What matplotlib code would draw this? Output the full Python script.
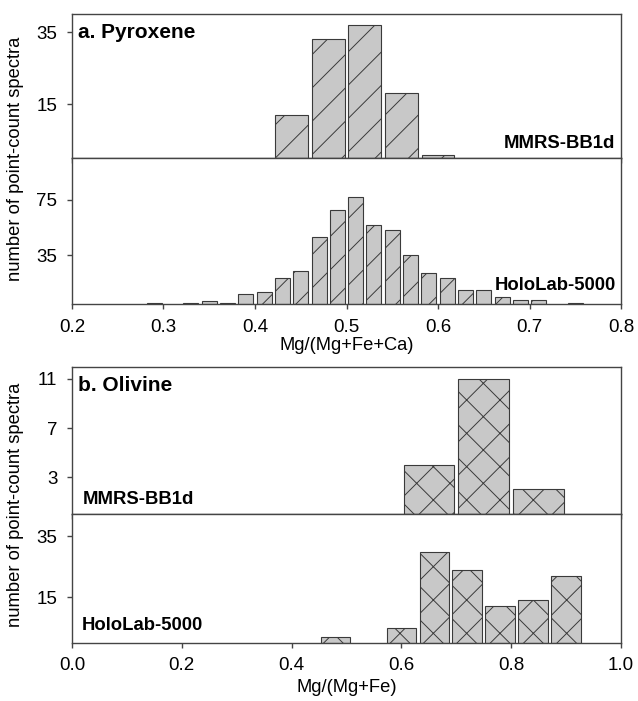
import numpy as np
import matplotlib
matplotlib.use("Agg")
import matplotlib.pyplot as plt

plt.rcParams['font.family'] = ['Liberation Sans', 'DejaVu Sans']
plt.rcParams['hatch.linewidth'] = 0.7

# pyroxene, MMRS-BB1d (bins of 0.04)
pyx_mmrs_x = [0.44, 0.48, 0.52, 0.56, 0.60]
pyx_mmrs_n = [12, 33, 37, 18, 1]

# pyroxene, HoloLab-5000 (bins of 0.02)
pyx_holo_x = [0.29, 0.33, 0.35, 0.37, 0.39, 0.41, 0.43, 0.45, 0.47, 0.49,
              0.51, 0.53, 0.55, 0.57, 0.59, 0.61, 0.63, 0.65, 0.67, 0.69,
              0.71, 0.75]
pyx_holo_n = [1, 1, 2, 1, 7, 9, 19, 24, 48, 68,
              77, 57, 53, 35, 22, 19, 10, 10, 5, 3,
              3, 1]

# olivine, MMRS-BB1d (bins of 0.1)
ol_mmrs_x = [0.65, 0.75, 0.85]
ol_mmrs_n = [4, 11, 2]

# olivine, HoloLab-5000 (bins of 0.06)
ol_holo_x = [0.48, 0.60, 0.66, 0.72, 0.78, 0.84, 0.90]
ol_holo_n = [2, 5, 30, 24, 12, 14, 22]

face = '#c8c8c8'
edge = '#3a3a3a'
spine_c = '#444444'
W, H = 638, 701
L, R = 72, 621


def px_axes(fig, x0, y0, x1, y1):
    return fig.add_axes([x0 / W, 1 - y1 / H, (x1 - x0) / W, (y1 - y0) / H])


def style(ax):
    for s in ax.spines.values():
        s.set_color(spine_c)
        s.set_linewidth(1.0)
    ax.tick_params(direction='out', length=3.6, width=1, color=spine_c,
                   labelsize=13.5, pad=7, right=False, top=False)


fig = plt.figure(figsize=(W / 100, H / 100), dpi=100)

# ---- panel a
a1 = px_axes(fig, L, 14, R, 158.3)
a2 = px_axes(fig, L, 158.3, R, 304)
a1.bar(pyx_mmrs_x, pyx_mmrs_n, width=0.036, color=face, edgecolor=edge,
       linewidth=0.8, hatch='/')
a2.bar(pyx_holo_x, pyx_holo_n, width=0.0165, color=face, edgecolor=edge,
       linewidth=0.8, hatch='/')
for ax in (a1, a2):
    ax.set_xlim(0.2, 0.8)
    ax.set_xticks(np.arange(0.2, 0.81, 0.1))
    style(ax)
a1.set_ylim(0, 40)
a1.set_yticks([15, 35])
a1.tick_params(labelbottom=False)
a2.set_ylim(0, 105)
a2.set_yticks([35, 75])
a2.set_xticklabels(['0.2', '0.3', '0.4', '0.5', '0.6', '0.7', '0.8'])
a2.set_xlabel('Mg/(Mg+Fe+Ca)', fontsize=13.2, labelpad=1)
a1.text(0.011, 0.935, 'a. Pyroxene', transform=a1.transAxes, fontsize=15,
        fontweight='bold', va='top', ha='left')
a1.text(0.99, 0.071, 'MMRS-BB1d', transform=a1.transAxes, fontsize=13.3,
        fontweight='bold', va='baseline', ha='right')
a2.text(0.99, 0.096, 'HoloLab-5000', transform=a2.transAxes, fontsize=13.3,
        fontweight='bold', va='baseline', ha='right')
fig.text(16 / W, 1 - 159 / H, 'number of point-count spectra', rotation=90,
         fontsize=13.2, va='center', ha='center')

# ---- panel b
b1 = px_axes(fig, L, 366.7, R, 514)
b2 = px_axes(fig, L, 514, R, 642.7)
b1.bar(ol_mmrs_x, ol_mmrs_n, width=0.092, color=face, edgecolor=edge,
       linewidth=0.8, hatch='x')
b2.bar(ol_holo_x, ol_holo_n, width=0.054, color=face, edgecolor=edge,
       linewidth=0.8, hatch='x')
for ax in (b1, b2):
    ax.set_xlim(0.0, 1.0)
    ax.set_xticks(np.arange(0.0, 1.01, 0.2))
    style(ax)
b1.set_ylim(0, 12)
b1.set_yticks([3, 7, 11])
b1.tick_params(labelbottom=False)
b2.set_ylim(0, 42.4)
b2.set_yticks([15, 35])
b2.set_xticklabels(['0.0', '0.2', '0.4', '0.6', '0.8', '1.0'])
b2.set_xlabel('Mg/(Mg+Fe)', fontsize=13.2, labelpad=3)
b1.text(0.011, 0.935, 'b. Olivine', transform=b1.transAxes, fontsize=15,
        fontweight='bold', va='top', ha='left')
b1.text(0.02, 0.068, 'MMRS-BB1d', transform=b1.transAxes, fontsize=13.3,
        fontweight='bold', va='baseline', ha='left')
b2.text(0.018, 0.099, 'HoloLab-5000', transform=b2.transAxes, fontsize=13.3,
        fontweight='bold', va='baseline', ha='left')
fig.text(16 / W, 1 - 505 / H, 'number of point-count spectra', rotation=90,
         fontsize=13.2, va='center', ha='center')

fig.savefig('out.png', dpi=100)
